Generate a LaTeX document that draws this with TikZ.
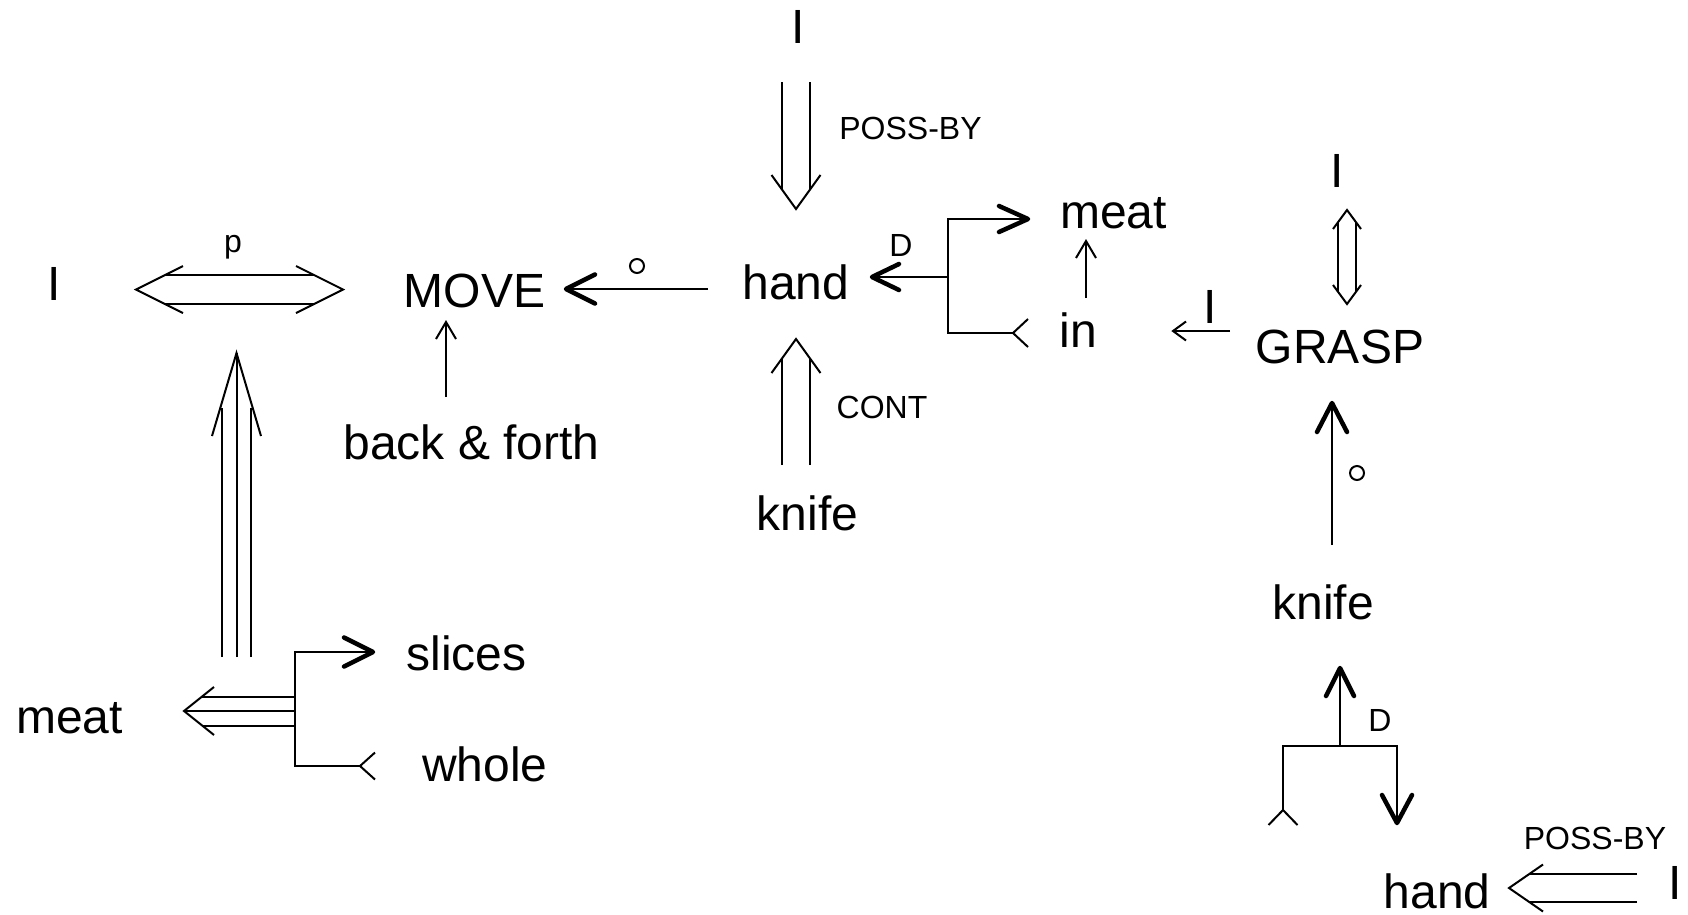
\documentclass[tikz,border=0pt]{standalone}
\usepackage{fontspec}
\setmainfont{Liberation Sans}
\usetikzlibrary{calc}
% #1 style, #2 tip, #3 ux, #4 uy (direction the head points), #5 length, #6 half-width
\newcommand\barb[6]{%
  \draw[#1] ($(#2)+({-(#5)*(#3)-(#6)*(#4)},{-(#5)*(#4)+(#6)*(#3)})$) -- (#2)
            -- ($(#2)+({-(#5)*(#3)+(#6)*(#4)},{-(#5)*(#4)-(#6)*(#3)})$);}
\tikzset{
  big/.style={font=\fontsize{48}{48}\selectfont, inner sep=0pt, anchor=base},
  small/.style={font=\fontsize{32}{32}\selectfont, inner sep=0pt, anchor=base},
  thn/.style={line width=2pt},
  thk/.style={line width=4.5pt, line cap=round, line join=round},
  ring/.style={circle, draw, line width=2pt, minimum size=14pt, inner sep=0pt},
}
\begin{document}
\begin{tikzpicture}[x=1pt,y=-1pt]
\fill[white] (0,0) rectangle (1688,914);
\useasboundingbox (0,0) rectangle (1688,914);

% ---------- nodes ----------
\node[big] (I1) at (54,300) {I};
\node[big] (move) at (474.5,307) {MOVE};
\node[big] (bf) at (471.5,459) {back \& forth};
\node[big] (meatA) at (69.5,733) {meat};
\node[big] (slices) at (466.5,670) {slices};
\node[big] (whole) at (485,781) {whole};
\node[big] (I2) at (798,43) {I};
\node[big] (handA) at (796,299) {hand};
\node[big] (knifeA) at (807.5,530) {knife};
\node[big] (meatB) at (1113.5,228) {meat};
\node[big] (in) at (1078.5,347) {in};
\node[big] (I3) at (1210.5,323) {I};
\node[big] (grasp) at (1340,363) {GRASP};
\node[big] (I4) at (1337.5,187) {I};
\node[big] (knifeB) at (1323,619) {knife};
\node[big] (handB) at (1437,908) {hand};
\node[big] (I5) at (1675.5,899) {I};

\node[small] (lp) at (233,252) {p};
\node[small] (lpb1) at (910.5,139) {POSS-BY};
\node[small] (lcont) at (882,418) {CONT};
\node[small] (lD1) at (901,256) {D};
\node[small] (lD2) at (1380,731) {D};
\node[small] (lpb2) at (1595,849) {POSS-BY};
\node[ring] (o1) at (637,266) {};
\node[ring] (o2) at (1357,473) {};

% ---------- connector end points ----------
\coordinate (c1l) at (136,289.5);
\coordinate (c1r) at (343,289.5);
\coordinate (c2s) at (708,289);
\coordinate (c2t) at (566,289);
\coordinate (c3s) at (446,397);
\coordinate (c3t) at (446,322);
\coordinate (c4s) at (236.5,657);
\coordinate (c4t) at (236.5,353);
\coordinate (c5s) at (295,711);
\coordinate (c5t) at (184,711);
\coordinate (b1top) at (295,652);
\coordinate (b1bot) at (295,766);
\coordinate (c6t) at (373,652);
\coordinate (c6e) at (360,766);
\coordinate (c7s) at (796,82);
\coordinate (c7t) at (796,209);
\coordinate (c8s) at (796,465);
\coordinate (c8t) at (796,339);
\coordinate (b2top) at (948,219);
\coordinate (b2mid) at (948,277);
\coordinate (b2bot) at (948,333);
\coordinate (c9t) at (872,277);
\coordinate (c9a) at (1028,219);
\coordinate (c9e) at (1013,333);
\coordinate (c10s) at (1086,298);
\coordinate (c10t) at (1086,241);
\coordinate (c11s) at (1230,331);
\coordinate (c11t) at (1173,331);
\coordinate (c12a) at (1347,210);
\coordinate (c12b) at (1347,304);
\coordinate (c13s) at (1332,545);
\coordinate (c13t) at (1332,403);
\coordinate (b3mid) at (1340,746);
\coordinate (c14t) at (1340,668);
\coordinate (b3l) at (1283,746);
\coordinate (b3r) at (1397,746);
\coordinate (c14e) at (1283,810);
\coordinate (c14d) at (1397,823);
\coordinate (c15s) at (1637,888);
\coordinate (c15t) at (1509,888);

% ---------- connectors ----------
% I <=> MOVE
\draw[thn] ($(c1l)+(29,-14.5)$) -- ($(c1r)+(-29,-14.5)$);
\draw[thn] ($(c1l)+(29,14.5)$) -- ($(c1r)+(-29,14.5)$);
\barb{thn}{c1l}{-1}{0}{47}{23.5}
\barb{thn}{c1r}{1}{0}{47}{23.5}
% hand -> MOVE
\draw[thn] (c2s) -- (c2t);
\barb{thk}{c2t}{-1}{0}{29}{14.5}
% back & forth -> MOVE
\draw[thn] (c3s) -- (c3t);
\barb{thn}{c3t}{0}{-1}{17}{10}
% triple vertical
\draw[thn] (c4s) -- (c4t);
\draw[thn] ($(c4s)+(-14.5,0)$) -- ($(c4t)+(-14.5,55)$);
\draw[thn] ($(c4s)+(14.5,0)$) -- ($(c4t)+(14.5,55)$);
\barb{thn}{c4t}{0}{-1}{83}{24.5}
% triple horizontal to meat
\draw[thn] (c5s) -- (c5t);
\draw[thn] ($(c5s)+(0,-14.5)$) -- ($(c5t)+(18,-14.5)$);
\draw[thn] ($(c5s)+(0,14.5)$) -- ($(c5t)+(18,14.5)$);
\barb{thn}{c5t}{-1}{0}{30}{24}
% bracket slices / whole
\draw[thn] (c6t) -- (b1top) -- (b1bot) -- (c6e);
\barb{thk}{c6t}{1}{0}{29}{14.5}
\barb{thn}{c6e}{-1}{0}{15}{13.5}
% I => hand (POSS-BY)
\draw[thn] ($(c7s)+(-14,0)$) -- ($(c7t)+(-14,-19.4)$);
\draw[thn] ($(c7s)+(14,0)$) -- ($(c7t)+(14,-19.4)$);
\barb{thn}{c7t}{0}{1}{34}{24.5}
% knife => hand (CONT)
\draw[thn] ($(c8s)+(-14,0)$) -- ($(c8t)+(-14,19.4)$);
\draw[thn] ($(c8s)+(14,0)$) -- ($(c8t)+(14,19.4)$);
\barb{thn}{c8t}{0}{-1}{34}{24.5}
% bracket meat / in -> hand (D)
\draw[thn] (c9a) -- (b2top) -- (b2bot) -- (c9e);
\draw[thn] (b2mid) -- (c9t);
\barb{thk}{c9t}{-1}{0}{27}{13}
\barb{thk}{c9a}{1}{0}{29}{13}
\barb{thn}{c9e}{-1}{0}{15}{14}
% in -> meat
\draw[thn] (c10s) -- (c10t);
\barb{thn}{c10t}{0}{-1}{17}{10}
% GRASP -> in (I)
\draw[thn] (c11s) -- (c11t);
\barb{thn}{c11t}{-1}{0}{13}{9.5}
% I <=> GRASP
\draw[thn] ($(c12a)+(-9,12)$) -- ($(c12b)+(-9,-12)$);
\draw[thn] ($(c12a)+(9,12)$) -- ($(c12b)+(9,-12)$);
\barb{thn}{c12a}{0}{-1}{19}{14}
\barb{thn}{c12b}{0}{1}{19}{14}
% knife -> GRASP
\draw[thn] (c13s) -- (c13t);
\barb{thk}{c13t}{0}{-1}{29}{15}
% bracket D -> knife
\draw[thn] (b3mid) -- (c14t);
\barb{thk}{c14t}{0}{-1}{28}{14}
\draw[thn] (c14e) -- (b3l) -- (b3r) -- (c14d);
\barb{thk}{c14d}{0}{1}{28}{15}
\barb{thn}{c14e}{0}{-1}{15}{14.5}
% I => hand (POSS-BY)
\draw[thn] ($(c15s)+(0,-14)$) -- ($(c15t)+(20,-14)$);
\draw[thn] ($(c15s)+(0,14)$) -- ($(c15t)+(20,14)$);
\barb{thn}{c15t}{-1}{0}{34}{23.5}
\end{tikzpicture}
\end{document}
